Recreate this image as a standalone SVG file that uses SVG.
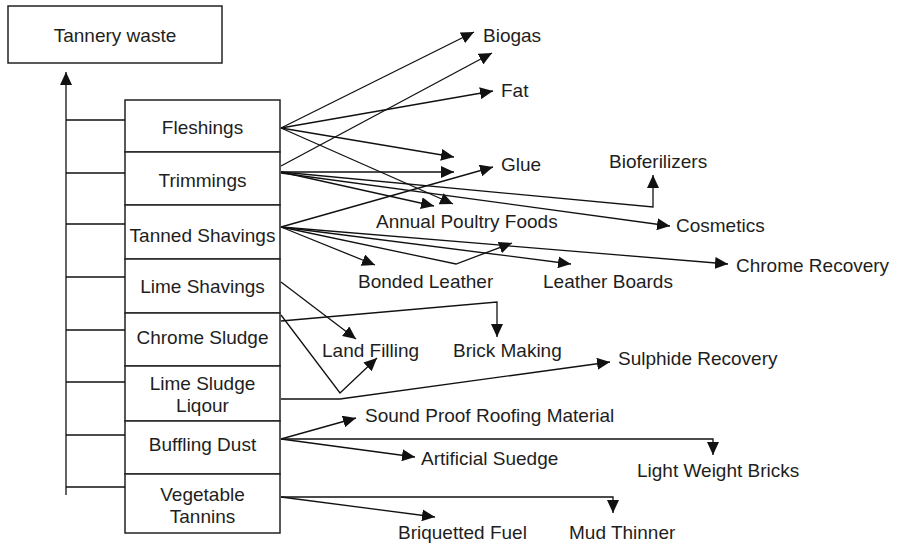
<svg xmlns="http://www.w3.org/2000/svg" width="898" height="545" viewBox="0 0 898 545">
<style>
text{font-family:"Liberation Sans",Arial,sans-serif;font-size:19px;fill:#1e1e1e}
.box{fill:#fff;stroke:#222;stroke-width:1.5}
.c{fill:none;stroke:#111;stroke-width:1.3;marker-end:url(#ah)}
.t{fill:none;stroke:#111;stroke-width:1.3}
.m{text-anchor:middle}
</style>
<defs>
<marker id="ah" markerUnits="userSpaceOnUse" markerWidth="13" markerHeight="12" refX="13" refY="6" orient="auto">
<path d="M0,0 L13,6 L0,12 z" fill="#111"/>
</marker>
</defs>
<rect width="898" height="545" fill="#fff"/>
<g id="tannery-waste"><rect class="box" x="8" y="6" width="214" height="57"/><text class="m" x="115" y="42">Tannery waste</text></g>
<g id="fleshings"><rect class="box" x="125" y="100" width="155" height="52"/><text class="m" x="202.5" y="134">Fleshings</text></g>
<g id="trimmings"><rect class="box" x="125" y="152" width="155" height="53"/><text class="m" x="202.5" y="187">Trimmings</text></g>
<g id="tanned-shavings"><rect class="box" x="125" y="205" width="155" height="54"/><text class="m" x="202.5" y="242">Tanned Shavings</text></g>
<g id="lime-shavings"><rect class="box" x="125" y="259" width="155" height="54"/><text class="m" x="202.5" y="293">Lime Shavings</text></g>
<g id="chrome-sludge"><rect class="box" x="125" y="313" width="155" height="53"/><text class="m" x="202.5" y="344">Chrome Sludge</text></g>
<g id="lime-sludge-liqour"><rect class="box" x="125" y="366" width="155" height="55"/><text class="m" x="202.5" y="390">Lime Sludge</text><text class="m" x="202.5" y="412">Liqour</text></g>
<g id="buffling-dust"><rect class="box" x="125" y="421" width="155" height="53"/><text class="m" x="202.5" y="451">Buffling Dust</text></g>
<g id="vegetable-tannins"><rect class="box" x="125" y="474" width="155" height="59"/><text class="m" x="202.5" y="501">Vegetable</text><text class="m" x="202.5" y="523">Tannins</text></g>
<g id="biogas"><text x="483" y="42">Biogas</text></g>
<g id="fat"><text x="501" y="97">Fat</text></g>
<g id="glue"><text x="501" y="171">Glue</text></g>
<g id="bioferilizers"><text x="609" y="168">Bioferilizers</text></g>
<g id="annual-poultry-foods"><text x="376" y="228">Annual Poultry Foods</text></g>
<g id="cosmetics"><text x="676" y="232">Cosmetics</text></g>
<g id="bonded-leather"><text x="358" y="288">Bonded Leather</text></g>
<g id="leather-boards"><text x="543" y="288">Leather Boards</text></g>
<g id="chrome-recovery"><text x="736" y="272">Chrome Recovery</text></g>
<g id="land-filling"><text x="322" y="357">Land Filling</text></g>
<g id="brick-making"><text x="453" y="357">Brick Making</text></g>
<g id="sulphide-recovery"><text x="618" y="365">Sulphide Recovery</text></g>
<g id="sound-proof-roofing-material"><text x="365" y="422">Sound Proof Roofing Material</text></g>
<g id="artificial-suedge"><text x="421" y="465">Artificial Suedge</text></g>
<g id="light-weight-bricks"><text x="637" y="477">Light Weight Bricks</text></g>
<g id="briquetted-fuel"><text x="398" y="539">Briquetted Fuel</text></g>
<g id="mud-thinner"><text x="569" y="539">Mud Thinner</text></g>
<g id="connectors">
<line class="c" x1="66" y1="495" x2="66" y2="72"/>
<path class="t" d="M66,120H125M66,173H125M66,224H125M66,277H125M66,330H125M66,382H125M66,435H125M66,487H125"/>
<line class="c" x1="281" y1="128" x2="474" y2="32"/>
<line class="c" x1="281" y1="128" x2="493" y2="91"/>
<line class="c" x1="281" y1="128" x2="454" y2="157"/>
<line class="c" x1="281" y1="128" x2="453" y2="204"/>
<line class="c" x1="281" y1="166" x2="492" y2="53"/>
<line class="c" x1="281" y1="172" x2="454" y2="172"/>
<line class="c" x1="281" y1="172" x2="434" y2="206"/>
<polyline class="c" points="281,172 653,207 653,175"/>
<line class="c" x1="281" y1="173" x2="670" y2="226"/>
<line class="c" x1="281" y1="227" x2="493" y2="167"/>
<line class="c" x1="281" y1="227" x2="375" y2="265"/>
<polyline class="c" points="281,227 456,264 512,243"/>
<line class="c" x1="281" y1="227" x2="571" y2="264"/>
<line class="c" x1="281" y1="227" x2="728" y2="264"/>
<line class="c" x1="281" y1="282" x2="356" y2="339"/>
<polyline class="c" points="281,321 497,302 497,337"/>
<polyline class="c" points="281,315 340,393 377,358"/>
<polyline class="c" points="281,399 340,399 610,362"/>
<line class="c" x1="281" y1="439" x2="356" y2="418"/>
<polyline class="c" points="281,439 713,439 713,455"/>
<line class="c" x1="281" y1="439" x2="415" y2="457"/>
<polyline class="c" points="281,497 613,497 613,513"/>
<line class="c" x1="281" y1="497" x2="435" y2="517"/>
</g>
</svg>
